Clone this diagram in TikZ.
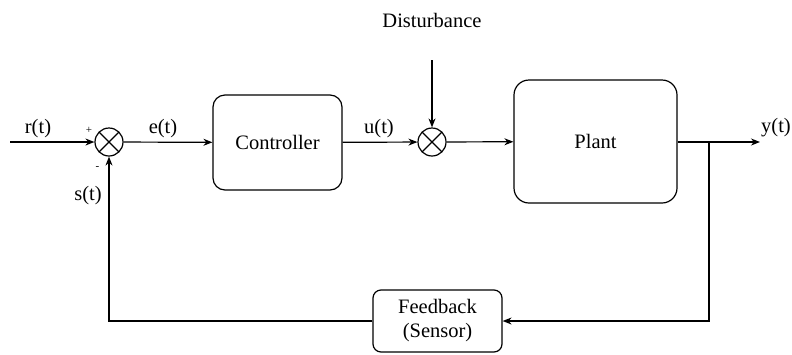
\documentclass[tikz,border=0pt]{standalone}
\usepackage{fontspec}
\setmainfont{Liberation Serif}
\usetikzlibrary{arrows.meta}

\begin{document}
\begin{tikzpicture}[x=1pt,y=-1pt,
  line width=1.2pt, font=\fontsize{20.5}{24}\selectfont,
  >={Stealth[length=9pt,width=7pt]},
  block/.style={draw, rounded corners=12pt, align=center, inner sep=0pt},
  sum/.style={draw, circle, minimum size=28pt, inner sep=0pt,
    path picture={\draw (path picture bounding box.north west) -- (path picture bounding box.south east)
      (path picture bounding box.south west) -- (path picture bounding box.north east);}},
  lbl/.style={inner sep=0pt},
  sgn/.style={inner sep=0pt, font=\fontsize{11}{12}\selectfont}]
  \useasboundingbox (0,0) rectangle (792,354);
  \node[sum] (sum1) at (109,142) {};
  \node[block, minimum width=129pt, minimum height=95pt] (ctrl) at (277.5,142.5) {Controller};
  \node[sum] (sum2) at (432,142) {};
  \node[block, rounded corners=15pt, minimum width=163pt, minimum height=123pt] (plant) at (595.5,141.5) {Plant};
  \node[block, rounded corners=8pt, minimum width=129pt, minimum height=62pt] (fb) at (437.5,321) {Feedback\\[0pt](Sensor)};
  \node[lbl] (dist) at (432,20) {Disturbance};
  \coordinate (in) at (10,142);
  \coordinate (out) at (760,142);
  \coordinate (tap) at (709,142);
  \coordinate (distTop) at (432,60);

  \draw[->] (in) -- (sum1);
  \draw[->] (sum1) -- (ctrl);
  \draw[->] (ctrl) -- (sum2);
  \draw[->] (sum2) -- (plant);
  \draw[->] (distTop) -- (sum2);
  \draw[->] (plant.east |- out) -- (out);
  \draw[->] (tap) |- (fb);
  \draw[->] (fb) -| (sum1);

  \node[lbl] (rlbl) at (38,129) {r(t)};
  \node[lbl] (elbl) at (163,129) {e(t)};
  \node[lbl] (ulbl) at (379,129) {u(t)};
  \node[lbl] (ylbl) at (776,128) {y(t)};
  \node[lbl] (slbl) at (88,196) {s(t)};
  \node[sgn] (plus) at (89,130) {+};
  \node[sgn] (minus) at (97.5,168) {-};
\end{tikzpicture}
\end{document}
